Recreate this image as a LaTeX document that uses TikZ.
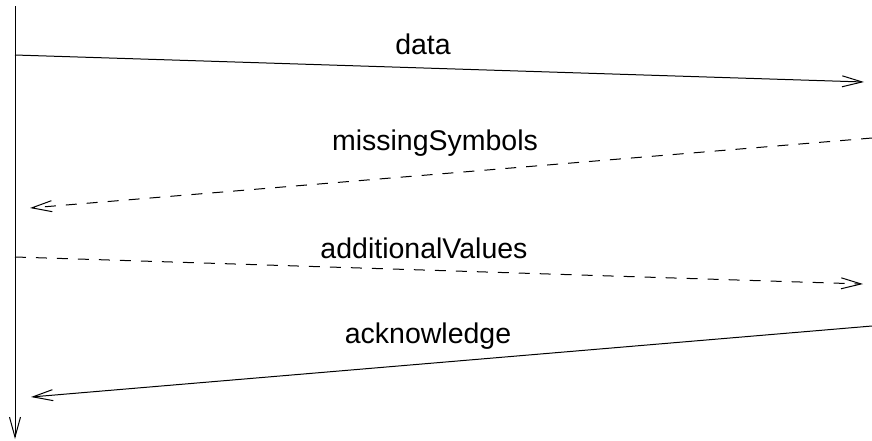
\documentclass[tikz,border=0pt]{standalone}
\usepackage{fontspec}
\setmainfont{Liberation Sans}
\usetikzlibrary{arrows.meta}
\begin{document}
\begin{tikzpicture}[x=1pt,y=-1pt,
  msg/.style={line width=1pt,-{Straight Barb[length=20pt,width=11pt,line width=1pt]}},
  dashmsg/.style={msg,dash pattern=on 11pt off 10pt},
  lbl/.style={inner sep=0pt,anchor=base,font=\fontsize{28.5}{28.5}\selectfont}]
  \useasboundingbox (0,0) rectangle (872,440);
  % lifeline
  \coordinate (top) at (15,6);
  \coordinate (bot) at (15,439);
  \draw[msg] (top) -- (bot);
  % message end points
  \coordinate (d1) at (15,55);   \coordinate (d2) at (864,82);
  \coordinate (m1) at (872,138); \coordinate (m2) at (30,208);
  \coordinate (a1) at (15,257);  \coordinate (a2) at (863,284);
  \coordinate (k1) at (872,326); \coordinate (k2) at (31,397);
  \draw[msg] (d1) -- (d2);
  \draw[dashmsg] (m1) -- (m2);
  \draw[dashmsg] (a1) -- (a2);
  \draw[msg] (k1) -- (k2);
  % labels
  \node[lbl] (ldata) at (423,54) {data};
  \node[lbl] (lmiss) at (435,150) {missingSymbols};
  \node[lbl] (ladd) at (424,258) {additionalValues};
  \node[lbl] (lack) at (428,343) {acknowledge};
\end{tikzpicture}
\end{document}
